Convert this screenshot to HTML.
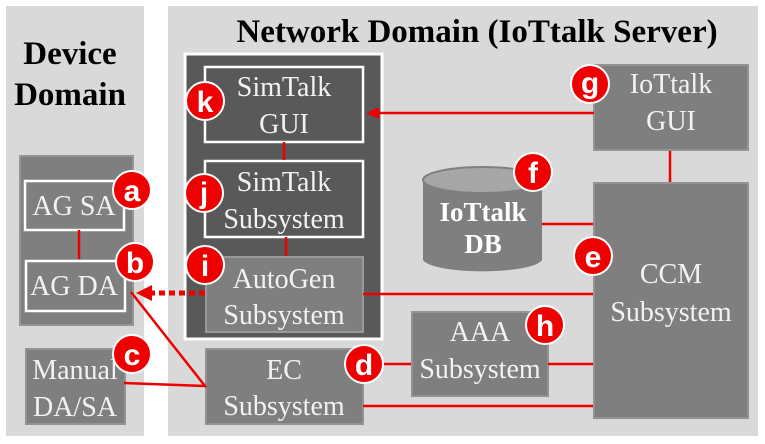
<!DOCTYPE html>
<html><head><meta charset="utf-8"><style>
html,body{margin:0;padding:0;background:#fff;}
svg{display:block;}
.t{font-family:"Liberation Serif",serif;fill:#f2f2f2;font-size:28px;text-anchor:middle;}
.h{font-family:"Liberation Serif",serif;font-weight:bold;fill:#000;font-size:33px;text-anchor:middle;}
.bt{font-family:"Liberation Sans",sans-serif;font-weight:bold;fill:#fff;font-size:30px;text-anchor:middle;}
</style></head><body>
<svg width="765" height="444" viewBox="0 0 765 444" xmlns="http://www.w3.org/2000/svg">
<rect x="0" y="0" width="765" height="444" fill="#fff"/>
<rect x="6" y="6" width="138" height="430" fill="#d9d9d9"/>
<rect x="168" y="6" width="590" height="430" fill="#d9d9d9"/>
<text class="h" x="70" y="64">Device</text>
<text class="h" x="70" y="105">Domain</text>
<text class="h" x="477" y="42">Network Domain (IoTtalk Server)</text>

<rect x="20" y="156" width="113" height="169" fill="#7f7f7f" stroke="#959595" stroke-width="2"/>
<rect x="25" y="181" width="99" height="49" fill="#7f7f7f" stroke="#fff" stroke-width="2.5"/>
<text class="t" x="74" y="215">AG SA</text>
<rect x="26" y="261" width="99" height="50" fill="#7f7f7f" stroke="#fff" stroke-width="2.5"/>
<text class="t" x="74" y="295">AG DA</text>
<line x1="79" y1="230" x2="79" y2="259" stroke="#e00" stroke-width="2.5"/>
<rect x="26" y="349" width="99" height="75" fill="#7f7f7f" stroke="#939393" stroke-width="2"/>
<text class="t" x="75" y="379">Manual</text>
<text class="t" x="75" y="416">DA/SA</text>

<rect x="185" y="54" width="197" height="285" fill="#595959" stroke="#fff" stroke-width="3"/>
<rect x="205" y="67" width="158" height="75" fill="#595959" stroke="#fff" stroke-width="2.5"/>
<text class="t" x="284" y="96">SimTalk</text>
<text class="t" x="284" y="133">GUI</text>
<rect x="205" y="161" width="158" height="76" fill="#595959" stroke="#fff" stroke-width="2.5"/>
<text class="t" x="284" y="191">SimTalk</text>
<text class="t" x="284" y="228">Subsystem</text>
<line x1="284" y1="142" x2="284" y2="160" stroke="#e00" stroke-width="2.5"/>
<line x1="286" y1="237" x2="286" y2="256" stroke="#e00" stroke-width="2.5"/>
<rect x="206" y="257" width="157" height="75" fill="#7f7f7f" stroke="#999" stroke-width="2"/>
<text class="t" x="284" y="288">AutoGen</text>
<text class="t" x="284" y="324">Subsystem</text>
<rect x="206" y="349" width="157" height="75" fill="#7f7f7f" stroke="#939393" stroke-width="2"/>
<text class="t" x="284" y="379">EC</text>
<text class="t" x="284" y="415">Subsystem</text>

<rect x="594" y="65" width="154" height="85" fill="#7f7f7f" stroke="#939393" stroke-width="2"/>
<text class="t" x="671" y="93">IoTtalk</text>
<text class="t" x="671" y="130">GUI</text>
<rect x="594" y="183" width="154" height="235" fill="#7f7f7f" stroke="#939393" stroke-width="2"/>
<text class="t" x="671" y="283">CCM</text>
<text class="t" x="671" y="321">Subsystem</text>
<rect x="412" y="312" width="136" height="84" fill="#7f7f7f" stroke="#939393" stroke-width="2"/>
<text class="t" x="480" y="341">AAA</text>
<text class="t" x="480" y="378">Subsystem</text>

<path d="M423,180 L423,260 A60,13 0 0 0 542,260 L542,180 Z" fill="#7f7f7f"/>
<ellipse cx="482.5" cy="180" rx="59.5" ry="13" fill="#a6a6a6" stroke="#7f7f7f" stroke-width="2"/>
<text class="bt" x="483" y="221" style="font-family:'Liberation Serif',serif;font-size:27px">IoTtalk</text>
<text class="bt" x="483" y="253" style="font-family:'Liberation Serif',serif;font-size:27px">DB</text>

<g stroke="#e00" stroke-width="2.5" fill="none">
<line x1="594" y1="113" x2="375" y2="113"/>
<line x1="670" y1="151" x2="670" y2="182"/>
<line x1="542" y1="224" x2="593" y2="224"/>
<line x1="363" y1="294" x2="593" y2="294"/>
<line x1="383" y1="364" x2="411" y2="364"/>
<line x1="548" y1="364" x2="593" y2="364"/>
<line x1="363" y1="406" x2="593" y2="406"/>
<polyline points="131,292 205,386 124,383"/>
<line x1="205" y1="293" x2="150" y2="293" stroke-width="5" stroke-dasharray="6,4"/>
</g>
<polygon points="366,113 379,107 379,119" fill="#e00"/>
<polygon points="136,293 152,285 152,301" fill="#e00"/>

<g fill="#e00" stroke="#fff" stroke-width="2">
<circle cx="132" cy="190" r="19"/>
<circle cx="135" cy="262" r="19"/>
<circle cx="132" cy="354" r="19"/>
<circle cx="364" cy="364" r="19"/>
<circle cx="593" cy="256" r="19"/>
<circle cx="533" cy="172" r="19"/>
<circle cx="590" cy="84" r="19"/>
<circle cx="545" cy="325" r="19"/>
<circle cx="205" cy="265" r="19"/>
<circle cx="204" cy="193" r="19"/>
<circle cx="205" cy="101" r="19"/>
</g>
<g>
<text class="bt" x="132" y="201">a</text>
<text class="bt" x="135" y="273">b</text>
<text class="bt" x="132" y="365">c</text>
<text class="bt" x="364" y="375">d</text>
<text class="bt" x="593" y="267">e</text>
<text class="bt" x="533" y="183">f</text>
<text class="bt" x="590" y="93">g</text>
<text class="bt" x="545" y="336">h</text>
<text class="bt" x="205" y="276">i</text>
<text class="bt" x="204" y="203">j</text>
<text class="bt" x="205" y="112">k</text>
</g>
</svg>
</body></html>
